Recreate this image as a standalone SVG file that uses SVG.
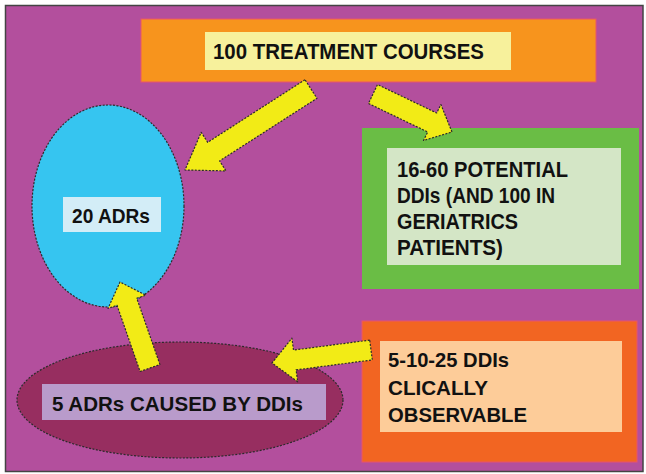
<svg xmlns="http://www.w3.org/2000/svg" width="646" height="474" viewBox="0 0 646 474">
<style>
text{font-family:"Liberation Sans",Arial,sans-serif;font-weight:bold;fill:#111}
.dash{stroke:#2b2b2b;stroke-width:1.2;stroke-dasharray:2 1.5}
.arrow{fill:#F2EB16;stroke:#2b2b2b;stroke-width:1.2;stroke-dasharray:2 1.5;stroke-linejoin:round}
.obox{stroke:#E9546B;stroke-width:1}
</style>
<rect x="0" y="0" width="646" height="474" fill="#ffffff"/>
<rect x="5.5" y="5.5" width="637.5" height="466" fill="#B34F9D" stroke="#444" stroke-width="1.5"/>

<g id="treatment">
<rect class="obox" x="141" y="19" width="455" height="63" fill="#F7941D"/>
<rect x="205" y="32" width="306" height="38" fill="#F7F19C"/>
<text x="213" y="59" font-size="22" textLength="271" lengthAdjust="spacingAndGlyphs">100 TREATMENT COURSES</text>
</g>

<g id="ddis">
<rect x="362" y="128" width="277" height="161" fill="#6ABD45"/>
<rect x="387" y="148" width="234" height="117" fill="#D4E6C6"/>
<text x="397" y="177" font-size="22" textLength="171" lengthAdjust="spacingAndGlyphs">16-60 POTENTIAL</text>
<text x="397" y="203" font-size="22" textLength="158" lengthAdjust="spacingAndGlyphs">DDIs (AND 100 IN</text>
<text x="397" y="229" font-size="22" textLength="121" lengthAdjust="spacingAndGlyphs">GERIATRICS</text>
<text x="397" y="255" font-size="22" textLength="106" lengthAdjust="spacingAndGlyphs">PATIENTS)</text>
</g>

<g id="adrs">
<ellipse class="dash" cx="108" cy="206" rx="76" ry="101" fill="#36C5F0"/>
<rect x="63" y="197" width="98" height="35" fill="#D3EDF7"/>
<text x="72" y="223" font-size="21" textLength="78" lengthAdjust="spacingAndGlyphs">20 ADRs</text>
</g>

<g id="adrs-ddis">
<ellipse class="dash" cx="180" cy="400" rx="163" ry="58" fill="#972E60"/>
<rect x="42" y="384" width="284" height="36" fill="#B99BCB"/>
<text x="52" y="411" font-size="20" textLength="251" lengthAdjust="spacingAndGlyphs">5 ADRs CAUSED BY DDIs</text>
</g>

<g id="observable">
<rect class="obox" x="362" y="321" width="275" height="141" fill="#F26522"/>
<rect x="380" y="341" width="242" height="91" fill="#FDCC99"/>
<text x="388" y="367" font-size="21" textLength="121" lengthAdjust="spacingAndGlyphs">5-10-25 DDIs</text>
<text x="388" y="395" font-size="21" textLength="100" lengthAdjust="spacingAndGlyphs">CLICALLY</text>
<text x="388" y="422" font-size="21" textLength="139" lengthAdjust="spacingAndGlyphs">OBSERVABLE</text>
</g>

<g id="connectors">
<polygon class="arrow" points="305,79.7 207.7,142.3 201.2,132.3 185,170 226,170.9 219.6,160.9 317,98.3"/>
<polygon class="arrow" points="368.5,103.5 427.7,132 423.5,140.5 452,132 440.9,104.5 436.7,113 377.5,84.5"/>
<polygon class="arrow" points="159.9,364.5 136.8,298.3 145.8,295.2 120,282 108,308.4 117,305.3 140.1,371.5"/>
<polygon class="arrow" points="369.7,340.1 293.5,350.1 291.9,338.2 272,363 297.7,381.8 296.1,369.9 372.3,359.9"/>
</g>
</svg>
